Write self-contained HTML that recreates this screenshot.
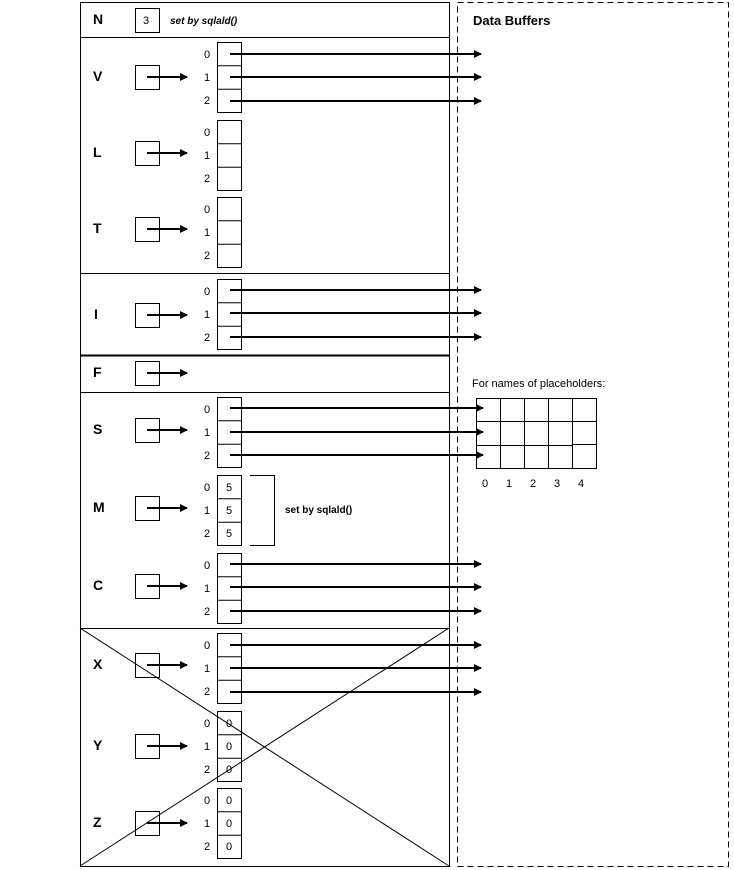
<!DOCTYPE html>
<html><head><meta charset="utf-8"><style>
html,body{margin:0;padding:0;background:#fff}
svg{display:block}
text{font-family:"Liberation Sans",sans-serif;fill:#000}
.lb{font-size:14px;font-weight:bold}
.ix{font-size:11px}
</style></head><body>
<svg width="734" height="870" viewBox="0 0 734 870" xmlns="http://www.w3.org/2000/svg">
<defs>
<marker id="ah" markerWidth="8" markerHeight="8" refX="7" refY="4" orient="auto" markerUnits="userSpaceOnUse">
<path d="M0,0 L8,4 L0,8 Z" fill="#000"/>
</marker>
</defs>
<g fill="none" stroke="#000">
<rect x="80.5" y="2.5" width="369" height="864"/>
<rect x="457.5" y="2.5" width="271" height="864" stroke-dasharray="6,4"/>
<line x1="80" y1="37.5" x2="449" y2="37.5"/>
<line x1="80" y1="273.5" x2="449" y2="273.5"/>
<line x1="80" y1="355.5" x2="449" y2="355.5" stroke-width="2"/>
<line x1="80" y1="392.5" x2="449" y2="392.5"/>
<line x1="80" y1="628.5" x2="449" y2="628.5"/>
<line x1="80" y1="628" x2="449" y2="866"/>
<line x1="449" y1="628" x2="80" y2="866"/>
<!-- small boxes -->
<rect x="135.5" y="8.5" width="24" height="24"/>
<rect x="135.5" y="65.5" width="24" height="24"/>
<rect x="135.5" y="141.5" width="24" height="24"/>
<rect x="135.5" y="217.5" width="24" height="24"/>
<rect x="135.5" y="303.5" width="24" height="24"/>
<rect x="135.5" y="361.5" width="24" height="24"/>
<rect x="135.5" y="418.5" width="24" height="24"/>
<rect x="135.5" y="496.5" width="24" height="24"/>
<rect x="135.5" y="574.5" width="24" height="24"/>
<rect x="135.5" y="653.5" width="24" height="24"/>
<rect x="135.5" y="734.5" width="24" height="24"/>
<rect x="135.5" y="811.5" width="24" height="24"/>
<!-- arrays -->
<g id="arr">
<rect x="217.5" y="42.5" width="24" height="70"/><line x1="217" y1="65.8" x2="241" y2="65.8"/><line x1="217" y1="89.2" x2="241" y2="89.2"/>
<rect x="217.5" y="120.5" width="24" height="70"/><line x1="217" y1="143.8" x2="241" y2="143.8"/><line x1="217" y1="167.2" x2="241" y2="167.2"/>
<rect x="217.5" y="197.5" width="24" height="70"/><line x1="217" y1="220.8" x2="241" y2="220.8"/><line x1="217" y1="244.2" x2="241" y2="244.2"/>
<rect x="217.5" y="279.5" width="24" height="70"/><line x1="217" y1="302.8" x2="241" y2="302.8"/><line x1="217" y1="326.2" x2="241" y2="326.2"/>
<rect x="217.5" y="397.5" width="24" height="70"/><line x1="217" y1="420.8" x2="241" y2="420.8"/><line x1="217" y1="444.2" x2="241" y2="444.2"/>
<rect x="217.5" y="475.5" width="24" height="70"/><line x1="217" y1="498.8" x2="241" y2="498.8"/><line x1="217" y1="522.2" x2="241" y2="522.2"/>
<rect x="217.5" y="553.5" width="24" height="70"/><line x1="217" y1="576.8" x2="241" y2="576.8"/><line x1="217" y1="600.2" x2="241" y2="600.2"/>
<rect x="217.5" y="633.5" width="24" height="70"/><line x1="217" y1="656.8" x2="241" y2="656.8"/><line x1="217" y1="680.2" x2="241" y2="680.2"/>
<rect x="217.5" y="711.5" width="24" height="70"/><line x1="217" y1="734.8" x2="241" y2="734.8"/><line x1="217" y1="758.2" x2="241" y2="758.2"/>
<rect x="217.5" y="788.5" width="24" height="70"/><line x1="217" y1="811.8" x2="241" y2="811.8"/><line x1="217" y1="835.2" x2="241" y2="835.2"/>
</g>
<!-- bracket -->
<polyline points="250,475.5 274.5,475.5 274.5,545.5 250,545.5"/>
<!-- grid -->
<rect x="476.5" y="398.5" width="120" height="70"/>
<line x1="476" y1="421.5" x2="596" y2="421.5"/>
<line x1="476" y1="445.5" x2="572" y2="445.5"/><line x1="572" y1="444.5" x2="596" y2="444.5"/>
<line x1="500.5" y1="398" x2="500.5" y2="468"/>
<line x1="524.5" y1="398" x2="524.5" y2="468"/>
<line x1="548.5" y1="398" x2="548.5" y2="468"/>
<line x1="572.5" y1="398" x2="572.5" y2="468"/>
</g>
<!-- arrows -->
<g stroke="#000" stroke-width="2" marker-end="url(#ah)">
<line x1="147" y1="77" x2="187" y2="77"/>
<line x1="147" y1="153" x2="187" y2="153"/>
<line x1="147" y1="229" x2="187" y2="229"/>
<line x1="147" y1="315" x2="187" y2="315"/>
<line x1="147" y1="373" x2="187" y2="373"/>
<line x1="147" y1="430" x2="187" y2="430"/>
<line x1="147" y1="508" x2="187" y2="508"/>
<line x1="147" y1="586" x2="187" y2="586"/>
<line x1="147" y1="665" x2="187" y2="665"/>
<line x1="147" y1="746" x2="187" y2="746"/>
<line x1="147" y1="823" x2="187" y2="823"/>
<line x1="230" y1="54" x2="481" y2="54"/>
<line x1="230" y1="77" x2="481" y2="77"/>
<line x1="230" y1="101" x2="481" y2="101"/>
<line x1="230" y1="290" x2="481" y2="290"/>
<line x1="230" y1="313" x2="481" y2="313"/>
<line x1="230" y1="337" x2="481" y2="337"/>
<line x1="230" y1="408" x2="483" y2="408"/>
<line x1="230" y1="432" x2="483" y2="432"/>
<line x1="230" y1="455" x2="483" y2="455"/>
<line x1="230" y1="564" x2="481" y2="564"/>
<line x1="230" y1="587" x2="481" y2="587"/>
<line x1="230" y1="611" x2="481" y2="611"/>
<line x1="230" y1="645" x2="481" y2="645"/>
<line x1="230" y1="668" x2="481" y2="668"/>
<line x1="230" y1="692" x2="481" y2="692"/>
</g>
<!-- labels -->
<g class="lb">
<text class="lb" x="93" y="24">N</text>
<text class="lb" x="93" y="81">V</text>
<text class="lb" x="93" y="157">L</text>
<text class="lb" x="93" y="233">T</text>
<text class="lb" x="94" y="319">I</text>
<text class="lb" x="93" y="377">F</text>
<text class="lb" x="93" y="434">S</text>
<text class="lb" x="93" y="512">M</text>
<text class="lb" x="93" y="590">C</text>
<text class="lb" x="93" y="669">X</text>
<text class="lb" x="93" y="750">Y</text>
<text class="lb" x="93" y="827">Z</text>
</g>
<text class="ix" x="143" y="24">3</text>
<text x="170" y="24" style="font-size:10px;font-weight:bold;font-style:italic">set by sqlald()</text>
<text x="285" y="513" style="font-size:10px;font-weight:bold">set by sqlald()</text>
<text x="473" y="25" style="font-size:13px;font-weight:bold">Data Buffers</text>
<text x="472" y="387" style="font-size:11px">For names  of placeholders:</text>
<g class="ix">
<text class="ix" x="482" y="487">0</text><text class="ix" x="506" y="487">1</text><text class="ix" x="530" y="487">2</text><text class="ix" x="554" y="487">3</text><text class="ix" x="578" y="487">4</text>
<text class="ix" x="204" y="58">0</text><text class="ix" x="204" y="81">1</text><text class="ix" x="204" y="104">2</text>
<text class="ix" x="204" y="136">0</text><text class="ix" x="204" y="159">1</text><text class="ix" x="204" y="182">2</text>
<text class="ix" x="204" y="213">0</text><text class="ix" x="204" y="236">1</text><text class="ix" x="204" y="259">2</text>
<text class="ix" x="204" y="295">0</text><text class="ix" x="204" y="318">1</text><text class="ix" x="204" y="341">2</text>
<text class="ix" x="204" y="413">0</text><text class="ix" x="204" y="436">1</text><text class="ix" x="204" y="459">2</text>
<text class="ix" x="204" y="491">0</text><text class="ix" x="204" y="514">1</text><text class="ix" x="204" y="537">2</text>
<text class="ix" x="204" y="569">0</text><text class="ix" x="204" y="592">1</text><text class="ix" x="204" y="615">2</text>
<text class="ix" x="204" y="649">0</text><text class="ix" x="204" y="672">1</text><text class="ix" x="204" y="695">2</text>
<text class="ix" x="204" y="727">0</text><text class="ix" x="204" y="750">1</text><text class="ix" x="204" y="773">2</text>
<text class="ix" x="204" y="804">0</text><text class="ix" x="204" y="827">1</text><text class="ix" x="204" y="850">2</text>
<text class="ix" x="226" y="491">5</text><text class="ix" x="226" y="514">5</text><text class="ix" x="226" y="537">5</text>
<text class="ix" x="226" y="727">0</text><text class="ix" x="226" y="750">0</text><text class="ix" x="226" y="773">0</text>
<text class="ix" x="226" y="804">0</text><text class="ix" x="226" y="827">0</text><text class="ix" x="226" y="850">0</text>
</g>
</svg>
</body></html>
